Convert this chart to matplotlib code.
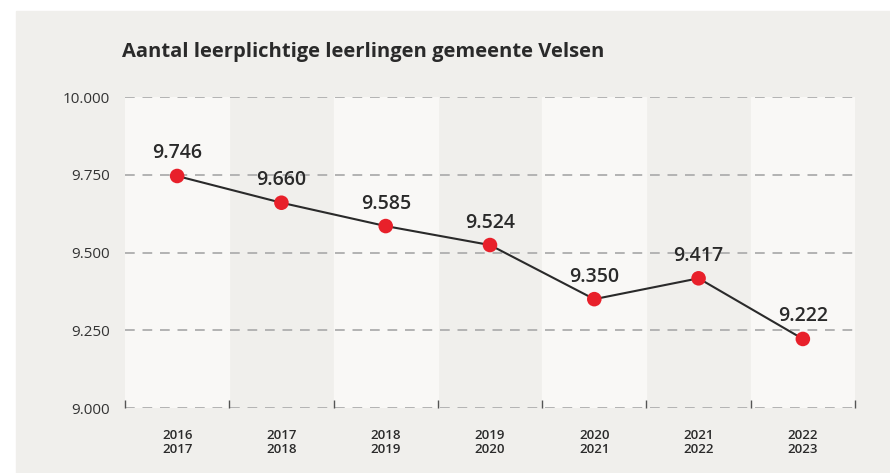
import matplotlib.pyplot as plt
from matplotlib.patches import Rectangle

# data
years = ["2016\n2017", "2017\n2018", "2018\n2019", "2019\n2020",
         "2020\n2021", "2021\n2022", "2022\n2023"]
pupils = [9746, 9660, 9585, 9524, 9350, 9417, 9222]
yticks = [9000, 9250, 9500, 9750, 10000]

panel = "#f0efec"
light = "#f9f8f6"
red = "#e8202a"
dark = "#2a2a2a"

plt.rcParams['font.family'] = ['Open Sans', 'DejaVu Sans']

fig = plt.figure(figsize=(8.9, 4.73), dpi=100, facecolor="white")
fig.patches.append(Rectangle((16 / 890, 0), 1, 1 - 11 / 473,
                             transform=fig.transFigure, color=panel, zorder=-10))

ax = fig.add_axes([125 / 890, 1 - 408 / 473, 730 / 890, 311 / 473])
ax.set_facecolor(panel)

x = list(range(len(years)))
for i in x:
    if i % 2 == 0:
        ax.axvspan(i - 0.5, i + 0.5, color=light, zorder=0)

for v in yticks:
    ax.axhline(v, color="#b3b3b3", lw=1.4, dashes=(5, 4), zorder=1)

ax.plot(x, pupils, color=dark, lw=1.5, zorder=3)
ax.scatter(x, pupils, s=110, color=red, zorder=4, edgecolors="none")
for xi, v in zip(x, pupils):
    ax.annotate(f"{v / 1000:.3f}", (xi, v), xytext=(0, 9), textcoords="offset points",
                ha="center", va="bottom", fontsize=14, fontweight="semibold", color=dark)

ax.set_xlim(-0.5, len(years) - 0.5)
ax.set_ylim(9000, 10000)
ax.set_yticks(yticks)
ax.set_yticklabels([f"{v / 1000:.3f}" for v in yticks], fontsize=11, color="#333333")
ax.set_xticks(x)
ax.set_xticklabels(years, fontsize=9.5, fontweight="semibold", color=dark, linespacing=1.15)
ax.set_xticks([i - 0.5 for i in range(len(years) + 1)], minor=True)
ax.tick_params(axis="x", which="major", length=0, pad=15)
ax.tick_params(axis="x", which="minor", direction="in", length=6, width=1, color="#555555")
ax.tick_params(axis="y", length=0, pad=11)
for s in ax.spines.values():
    s.set_visible(False)

fig.text(122 / 890, 1 - 52 / 473, "Aantal leerplichtige leerlingen gemeente Velsen",
         fontsize=14.5, fontweight="bold", color=dark, va="center", ha="left")

fig.savefig("out.png", dpi=100)
